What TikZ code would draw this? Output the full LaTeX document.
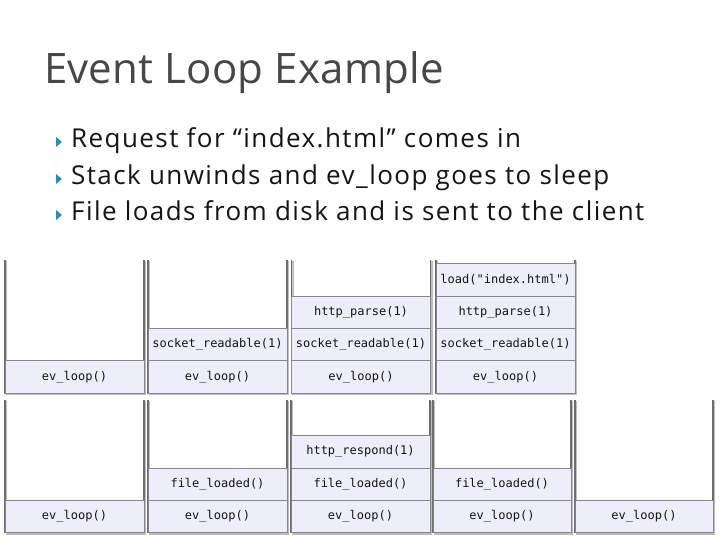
\documentclass[tikz,border=0pt]{standalone}
\usepackage{fontspec}
\setmainfont{Open Sans}
\newfontfamily\codefont{DejaVu Sans Mono}
\definecolor{titlegray}{HTML}{474747}
\definecolor{bodyink}{HTML}{151515}
\definecolor{bullteal}{HTML}{2E8DB0}
\definecolor{framegray}{HTML}{6E6E6E}
\definecolor{shadowgray}{HTML}{BDBDBD}
\definecolor{cellfill}{HTML}{EEEEFB}
\definecolor{cellline}{HTML}{84848F}
\begin{document}
\begin{tikzpicture}[x=1pt,y=-1pt,
  titletext/.style={anchor=base west,inner sep=0pt,text=titlegray,
    font=\fontsize{42}{48}\selectfont\addfontfeature{LetterSpace=0.5}},
  bullettext/.style={anchor=base west,inner sep=0pt,text=bodyink,
    font=\fontsize{26}{30}\selectfont\addfontfeature{LetterSpace=5.5}},
  bullmark/.style={fill=bullteal,draw=none},
  cell/.style={draw=cellline,line width=0.7pt,fill=cellfill,minimum width=139pt,minimum height=32.3pt,
    inner sep=0pt,text=black!92,font=\codefont\fontsize{12}{14}\selectfont},
  frameline/.style={draw=framegray,line width=1.4pt},
  frameshadow/.style={draw=shadowgray,line width=1.6pt}]
\useasboundingbox (0,0) rectangle (720,540);
\fill[white] (0,0) rectangle (720,540);

% heading and bullet list
\node[titletext] (title) at (44,83.5) {Event Loop Example};
\fill[bullmark] (56,137) -- (62,142) -- (56,147) -- cycle;
\fill[bullmark] (56,174) -- (62,179) -- (56,184) -- cycle;
\fill[bullmark] (56,210) -- (62,215) -- (56,220) -- cycle;
\node[bullettext] (b1) at (71,147.5) {Request for “index.html” comes in};
\node[bullettext] (b2) at (71,184.5) {Stack unwinds and ev\_loop goes to sleep};
\node[bullettext] (b3) at (71,220.5) {File loads from disk and is sent to the client};

% stack frames, upper row (open at the top)
\foreach \xa/\xb in {5/144,148/287,291.5/430.5,436/575}{
  \draw[frameshadow] (\xa+1.6,261) -- (\xa+1.6,394.6) -- (\xb+1.6,394.6) -- (\xb+1.6,261);
  \draw[frameline] (\xa,260) -- (\xa,393) -- (\xb,393) -- (\xb,260);
}
% stack frames, lower row
\foreach \xa/\xb in {5/144,148/287,291/430,433/571,575/713}{
  \draw[frameshadow] (\xa+1.6,401) -- (\xa+1.6,534.1) -- (\xb+1.6,534.1) -- (\xb+1.6,401);
  \draw[frameline] (\xa,400) -- (\xa,532.5) -- (\xb,532.5) -- (\xb,400);
}

% upper row: call stacks while the request is handled
\node[cell] (a1e) at (74.5,376.85) {ev\_loop()};

\node[cell] (a2e) at (217.5,376.85) {ev\_loop()};
\node[cell] (a2s) at (217.5,344.55) {socket\_readable(1)};

\node[cell] (a3e) at (361,376.85) {ev\_loop()};
\node[cell] (a3s) at (361,344.55) {socket\_readable(1)};
\node[cell] (a3h) at (361,312.25) {http\_parse(1)};

\node[cell] (a4e) at (505.5,376.85) {ev\_loop()};
\node[cell] (a4s) at (505.5,344.55) {socket\_readable(1)};
\node[cell] (a4h) at (505.5,312.25) {http\_parse(1)};
\node[cell] (a4l) at (505.5,279.95) {load("index.html")};

% lower row: call stacks after the file has loaded
\node[cell] (c1e) at (74.5,516.35) {ev\_loop()};

\node[cell] (c2e) at (217.5,516.35) {ev\_loop()};
\node[cell] (c2f) at (217.5,484.05) {file\_loaded()};

\node[cell] (c3e) at (360.5,516.35) {ev\_loop()};
\node[cell] (c3f) at (360.5,484.05) {file\_loaded()};
\node[cell] (c3r) at (360.5,451.75) {http\_respond(1)};

\node[cell,minimum width=138pt] (c4e) at (502,516.35) {ev\_loop()};
\node[cell,minimum width=138pt] (c4f) at (502,484.05) {file\_loaded()};

\node[cell,minimum width=138pt] (c5e) at (644,516.35) {ev\_loop()};
\end{tikzpicture}
\end{document}
